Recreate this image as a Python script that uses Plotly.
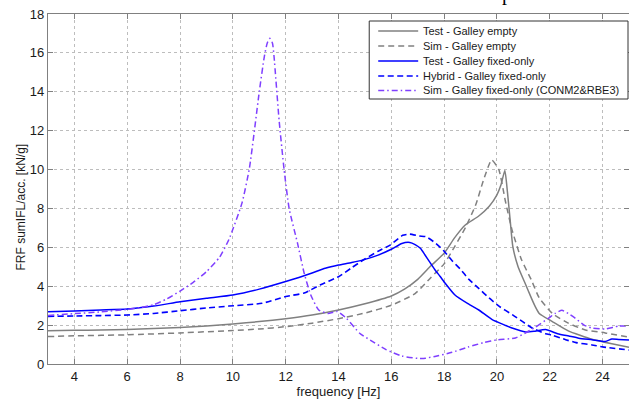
import plotly.graph_objects as go

# ---------------- data ----------------
f_test_empty = [3, 4, 5, 6, 7, 8, 9, 10, 11, 12, 13, 14, 15, 16, 16.5, 17, 17.5, 18, 18.4,
                18.8, 19.3, 19.7, 20.0, 20.15, 20.3, 20.4, 20.5, 20.6, 20.8, 21.05, 21.3, 21.45,
                21.6, 22.1, 22.7, 23.6, 24.35, 25]
v_test_empty = [1.71, 1.73, 1.75, 1.78, 1.82, 1.88, 1.96, 2.06, 2.18, 2.33, 2.52, 2.78, 3.1,
                3.5, 3.85, 4.35, 5.05, 5.7, 6.5, 7.15, 7.6, 8.1, 8.7, 9.2, 9.95, 8.8, 7.4, 6.05,
                5.0, 4.2, 3.4, 2.95, 2.6, 2.18, 1.7, 1.27, 1.04, 0.86]

f_sim_empty = [3, 4, 6, 8, 10, 11, 12, 13, 14, 15, 16, 16.9, 17.5, 18, 18.4, 18.8, 19.2, 19.5,
               19.8, 20.07, 20.32, 20.57, 20.93, 21.3, 21.6, 22.1, 22.7, 23.35, 24.1, 25]
v_sim_empty = [1.41, 1.45, 1.5, 1.6, 1.72, 1.8, 1.92, 2.1, 2.33, 2.62, 3.02, 3.62, 4.45, 5.15,
               6.04, 7.0, 8.2, 9.5, 10.5, 10.0, 8.37, 6.9, 5.36, 4.33, 3.4, 2.6, 2.1, 1.75, 1.6, 1.38]

f_test_fixed = [3, 4, 5, 6, 7, 8, 9, 10, 11, 12, 12.5, 13, 13.5, 14, 14.5, 15, 15.5, 16.0, 16.4,
                16.7, 16.9, 17.1, 17.27, 17.45, 17.65, 17.85, 18.04, 18.4, 18.9, 19.3, 19.82,
                20.3, 20.57, 21.08, 21.4, 21.84, 22.3, 22.72, 23.1, 23.6, 24.1, 24.35, 24.6, 25]
v_test_fixed = [2.69, 2.73, 2.78, 2.83, 2.98, 3.2, 3.38, 3.55, 3.85, 4.24, 4.45, 4.68, 4.92, 5.09,
                5.22, 5.38, 5.6, 5.9, 6.2, 6.25, 6.14, 5.95, 5.62, 5.25, 4.85, 4.5, 4.15, 3.56,
                3.1, 2.79, 2.28, 2.0, 1.85, 1.65, 1.68, 1.77, 1.56, 1.44, 1.33, 1.25, 1.16, 1.28,
                1.26, 1.23]

f_hybrid = [3, 4, 5, 6, 7, 8, 9, 9.85, 11.1, 12, 12.7, 13.3, 14, 14.5, 14.95, 15.5, 15.97, 16.43,
            16.7, 17.06, 17.31, 17.69, 18.0, 18.31, 18.6, 18.94, 19.3, 19.7, 20.1, 20.58, 21.0,
            21.33, 21.84, 22.1, 22.6, 23.0, 23.6, 24.0, 25]
v_hybrid = [2.45, 2.47, 2.49, 2.52, 2.6, 2.74, 2.88, 2.98, 3.12, 3.47, 3.65, 4.06, 4.49, 4.95,
            5.36, 5.8, 6.13, 6.62, 6.68, 6.58, 6.55, 6.2, 5.8, 5.3, 4.9, 4.35, 3.9, 3.4, 2.95,
            2.54, 2.15, 1.85, 1.56, 1.48, 1.25, 1.1, 0.98, 0.88, 0.72]

f_sim_fixed = [3, 4, 5, 6, 6.5, 7, 7.5, 8, 8.5, 9, 9.5, 9.85, 10.35, 10.63, 11.0, 11.19, 11.3,
               11.4, 11.5, 11.56, 11.75, 11.94, 12.13, 12.45, 12.7, 12.95, 13.25, 13.6, 13.95,
               14.3, 14.8, 15.2, 15.8, 16.4, 17.0, 17.3, 17.65, 18.3, 18.9, 19.5, 20.04, 20.7,
               21.4, 21.96, 22.2, 22.46, 22.7, 22.96, 23.3, 23.6, 24.1, 24.6, 25]
v_sim_fixed = [2.5, 2.59, 2.68, 2.81, 2.9, 3.05, 3.35, 3.75, 4.2, 4.75, 5.5, 6.4, 8.3, 10.1, 14.0,
               15.8, 16.5, 16.75, 16.5, 15.8, 12.55, 10.0, 8.0, 6.2, 4.67, 3.55, 2.78, 2.6, 2.7,
               2.35, 1.58, 1.23, 0.74, 0.41, 0.29, 0.3, 0.39, 0.6, 0.87, 1.1, 1.25, 1.34, 1.85,
               2.36, 2.6, 2.76, 2.6, 2.36, 2.0, 1.85, 1.8, 1.95, 1.95]

series_names = ["Test - Galley empty", "Sim - Galley empty", "Test - Galley fixed-only",
                "Hybrid - Galley fixed-only", "Sim - Galley fixed-only (CONM2&RBE3)"]
x_ticks = [4, 6, 8, 10, 12, 14, 16, 18, 20, 22, 24]
y_ticks = [0, 2, 4, 6, 8, 10, 12, 14, 16, 18]
x_title = "frequency [Hz]"
y_title = "FRF sumIFL/acc. [kN/g]"
cut_title_fragment = "p"   # only the descender of the (cropped) title is visible

# ---------------- styling ----------------
GRAY = "#808080"
BLUE = "#0000ff"
PURPLE = "#7f3fff"
styles = [
    dict(color=GRAY, width=1.5, dash="solid"),
    dict(color=GRAY, width=1.5, dash="6px,4px"),
    dict(color=BLUE, width=1.5, dash="solid"),
    dict(color=BLUE, width=1.6, dash="6px,3.5px"),
    dict(color=PURPLE, width=1.5, dash="6px,3px,1.5px,3px"),
]
data = [(f_test_empty, v_test_empty), (f_sim_empty, v_sim_empty), (f_test_fixed, v_test_fixed),
        (f_hybrid, v_hybrid), (f_sim_fixed, v_sim_fixed)]

W, H = 629, 400
ML, MR, MT, MB = 47.5, 0, 14, 36
PW, PH = W - ML - MR, H - MT - MB

fig = go.Figure()
for (fx, fy), name, st in zip(data, series_names, styles):
    fig.add_trace(go.Scatter(x=fx, y=fy, mode="lines", name=name, line=st,
                             line_shape="spline", line_smoothing=0.5, showlegend=False))

FONT = "Liberation Sans, Arial, sans-serif"
TXT = "#1a1a1a"
axis_common = dict(showgrid=True, gridcolor="#bdbdbd", griddash="dot", gridwidth=1,
                   showline=True, linecolor=GRAY, linewidth=1.2, mirror="ticks",
                   ticks="inside", ticklen=5, tickcolor=GRAY, tickwidth=1,
                   zeroline=False, tickfont=dict(family=FONT, size=13, color=TXT))

fig.update_layout(
    width=W, height=H, autosize=False,
    margin=dict(l=ML, r=MR, t=MT, b=MB, pad=0),
    paper_bgcolor="white", plot_bgcolor="white",
    xaxis=dict(range=[3, 25], tickvals=x_ticks, title=dict(text=x_title, standoff=2,
               font=dict(family=FONT, size=13, color=TXT)), **axis_common),
    yaxis=dict(range=[0, 18], tickvals=y_ticks, **axis_common),
    showlegend=False,
)

# ---------------- manual legend (MATLAB-style box) ----------------
def px(x):
    return (x - ML) / PW

def py(y):
    return (H - MB - y) / PH

shapes = [dict(type="rect", xref="paper", yref="paper", x0=px(369), x1=px(628), y0=py(21), y1=py(99),
               fillcolor="white", line=dict(color="#333333", width=1), layer="above")]
annotations = []
rows = [31, 46, 61, 76, 90.5]
for name, st, ry in zip(series_names, styles, rows):
    shapes.append(dict(type="line", xref="paper", yref="paper", x0=px(378), x1=px(418),
                       y0=py(ry), y1=py(ry), line=st, layer="above"))
    annotations.append(dict(xref="paper", yref="paper", x=px(421), y=py(ry), text=name,
                            showarrow=False, xanchor="left", yanchor="middle",
                            font=dict(family=FONT, size=11, color=TXT)))

# y axis title (placed like the reference, slightly below the plot centre)
annotations.append(dict(xref="paper", yref="paper", x=px(20), y=py(207), text=y_title,
                        textangle=-90, showarrow=False, xanchor="center", yanchor="middle",
                        font=dict(family=FONT, size=12, color=TXT)))
# cropped title: only its bottom edge shows at the top of the picture
annotations.append(dict(xref="paper", yref="paper", x=px(507), y=py(-6.8), text=cut_title_fragment,
                        showarrow=False, xanchor="center", yanchor="middle",
                        font=dict(family="Liberation Serif, Times New Roman, serif", size=20, color="black")))
fig.update_layout(shapes=shapes, annotations=annotations)

fig.write_html("out.html", config={"displayModeBar": False},
               post_script="document.body.style.margin='0';document.body.style.overflow='hidden';")
